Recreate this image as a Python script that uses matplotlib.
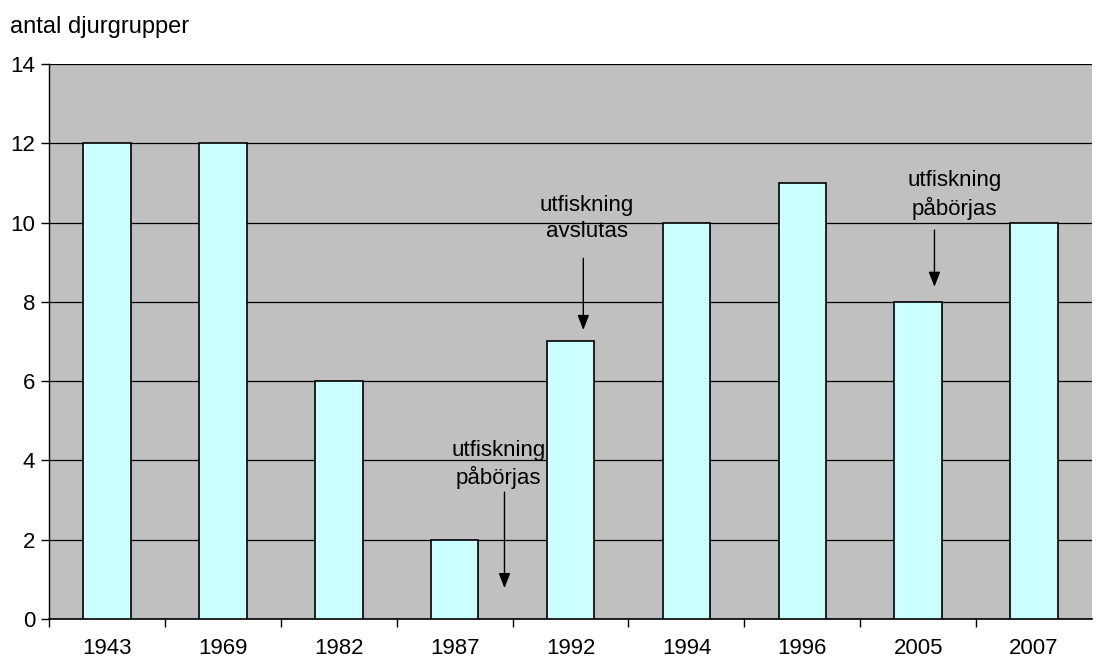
import matplotlib
matplotlib.use("Agg")
import matplotlib.pyplot as plt

years = ["1943", "1969", "1982", "1987", "1992", "1994", "1996", "2005", "2007"]
values = [12, 12, 6, 2, 7, 10, 11, 8, 10]
yticks = [0, 2, 4, 6, 8, 10, 12, 14]

plt.rcParams['font.family'] = ['Liberation Sans', 'DejaVu Sans']

fig = plt.figure(figsize=(11.07, 6.59), dpi=100)
ax = fig.add_axes([0.0443, 0.0607, 0.9422, 0.8422])
ax.set_facecolor('#c0c0c0')
x = list(range(len(years)))
ax.bar(x, values, width=0.41, color='#ccffff', edgecolor='black', linewidth=1.2, zorder=3)
ax.set_xlim(-0.5, len(years) - 0.5)
ax.set_ylim(0, 14)
ax.set_yticks(yticks)
ax.yaxis.grid(True, color='black', linewidth=0.9, zorder=1)
ax.set_axisbelow(True)
ax.set_xticks(x)
ax.set_xticklabels(years)
ax.set_xticks([i + 0.5 for i in range(len(years) - 1)] + [-0.5], minor=True)
ax.tick_params(axis='x', which='major', length=0, pad=14, labelsize=16)
ax.tick_params(axis='x', which='minor', length=6, direction='out', width=1)
ax.tick_params(axis='y', length=6, direction='out', width=1, labelsize=16, pad=4)
for s in ['top', 'right']:
    ax.spines[s].set_visible(False)
ax.spines['left'].set_linewidth(1)
ax.spines['bottom'].set_linewidth(1.2)

fig.text(10 / 1107, 1 - 27 / 659, "antal djurgrupper", fontsize=17, va='center', ha='left')

arrowprops = dict(arrowstyle='-|>,head_length=0.9,head_width=0.35', color='black', lw=1, shrinkA=0, shrinkB=0)
ax.annotate("", xy=(3.43, 0.78), xytext=(3.43, 3.2), arrowprops=arrowprops, zorder=5)
ax.text(3.38, 3.9, "utfiskning\npåbörjas", ha='center', va='center', fontsize=16, linespacing=1.3, zorder=5)
ax.annotate("", xy=(4.11, 7.29), xytext=(4.11, 9.1), arrowprops=arrowprops, zorder=5)
ax.text(4.14, 10.1, "utfiskning\navslutas", ha='center', va='center', fontsize=16, linespacing=1.3, zorder=5)
ax.annotate("", xy=(7.14, 8.38), xytext=(7.14, 9.81), arrowprops=arrowprops, zorder=5)
ax.text(7.31, 10.7, "utfiskning\npåbörjas", ha='center', va='center', fontsize=16, linespacing=1.3, zorder=5)

fig.savefig("out.png", dpi=100)
